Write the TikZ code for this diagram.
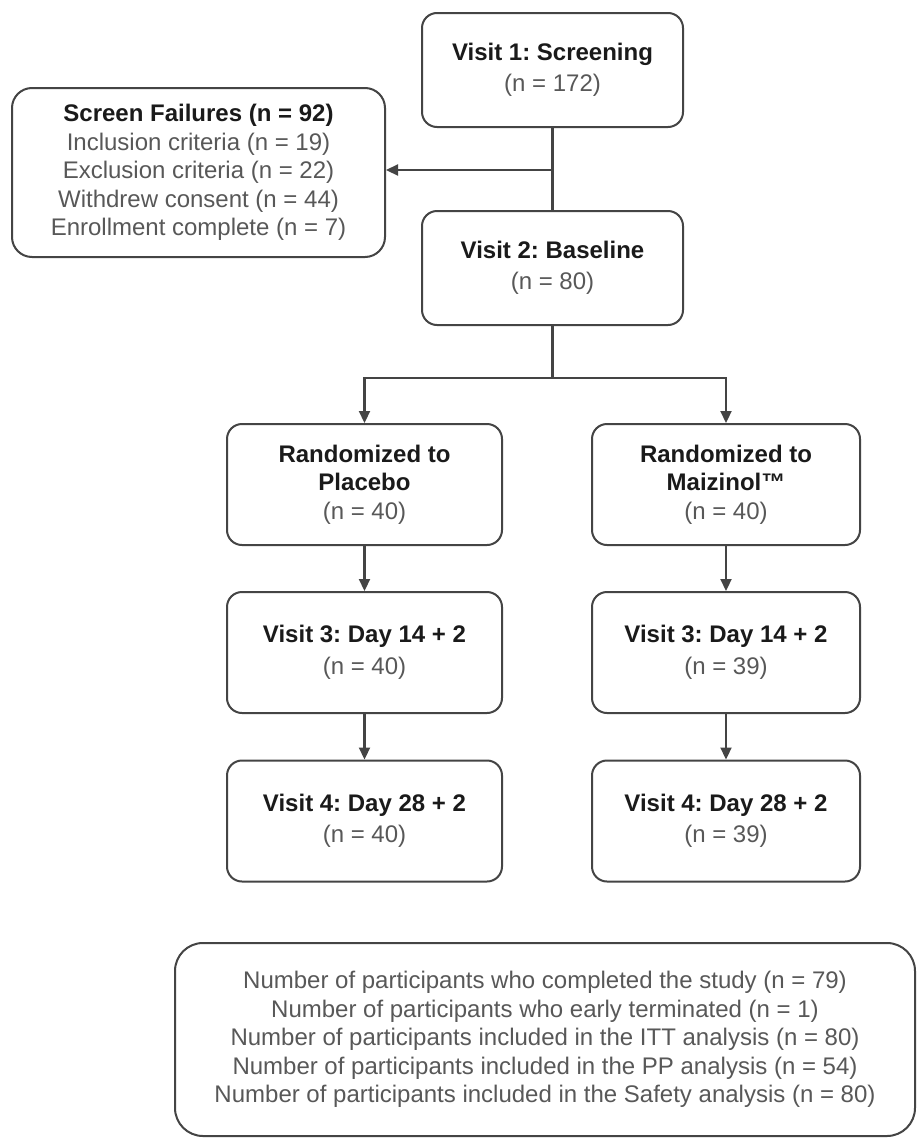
\documentclass[tikz,border=0pt]{standalone}
\usepackage{fontspec}
\setmainfont{Liberation Sans}
\usetikzlibrary{arrows.meta}
\definecolor{boxc}{HTML}{444444}
\definecolor{txtb}{HTML}{1A1A1A}
\definecolor{txtg}{HTML}{585858}
\newcommand{\ttl}[1]{\textcolor{txtb}{\bfseries #1}}
\frenchspacing
\begin{document}
\begin{tikzpicture}[x=1pt,y=-1pt,
  box/.style={draw=boxc, line width=2pt, rounded corners=15pt, align=center,
    inner sep=0pt, font=\fontsize{24}{28.5}\selectfont, text=txtg},
  conn/.style={draw=boxc, line width=2.2pt},
  arr/.style={conn, -{Triangle[length=12pt,width=11pt]}}]
\fill[white] (0,0) rectangle (917,1138);
\useasboundingbox (0,0) rectangle (917,1138);

\node[box, minimum width=261pt, minimum height=114pt] (v1) at (552.5,70)
  {\ttl{Visit 1: Screening}\\[2.5pt](n = 172)};
\node[box, rounded corners=20pt, minimum width=373pt, minimum height=169pt] (sf) at (198.5,172.5)
  {\ttl{Screen Failures (n = 92)}\\Inclusion criteria (n = 19)\\Exclusion criteria (n = 22)\\Withdrew consent (n = 44)\\Enrollment complete (n = 7)};
\node[box, minimum width=261pt, minimum height=114pt] (v2) at (552.5,268)
  {\ttl{Visit 2: Baseline}\\[2.5pt](n = 80)};

\node[box, minimum width=275pt, minimum height=121pt] (pl) at (364.5,484.5)
  {\ttl{Randomized to}\\\ttl{Placebo}\\(n = 40)};
\node[box, minimum width=268pt, minimum height=121pt] (mz) at (726,484.5)
  {\ttl{Randomized to}\\\ttl{Maizinol™}\\(n = 40)};
\node[box, minimum width=275pt, minimum height=121pt] (v3l) at (364.5,652.5)
  {\ttl{Visit 3: Day 14 + 2}\\[3pt](n = 40)};
\node[box, minimum width=268pt, minimum height=121pt] (v3r) at (726,652.5)
  {\ttl{Visit 3: Day 14 + 2}\\[3pt](n = 39)};
\node[box, minimum width=275pt, minimum height=121pt] (v4l) at (364.5,821)
  {\ttl{Visit 4: Day 28 + 2}\\[3pt](n = 40)};
\node[box, minimum width=268pt, minimum height=121pt] (v4r) at (726,821)
  {\ttl{Visit 4: Day 28 + 2}\\[3pt](n = 39)};

\node[box, rounded corners=28pt, minimum width=740pt, minimum height=193pt] (sum) at (545,1039.5)
  {Number of participants who completed the study (n = 79)\\
   Number of participants who early terminated (n = 1)\\
   Number of participants included in the ITT analysis (n = 80)\\
   Number of participants included in the PP analysis (n = 54)\\
   Number of participants included in the Safety analysis (n = 80)};

\coordinate (j1) at (552.5,170);
\coordinate (j2) at (552.5,378);
\draw[conn] (v1.south) -- (v2.north);
\draw[arr] (j1) -- (j1 -| sf.east);
\draw[conn] (v2.south) -- (j2);
\draw[arr] (j2) -| (pl.north);
\draw[arr] (j2) -| (mz.north);
\draw[arr] (pl.south) -- (v3l.north);
\draw[arr] (v3l.south) -- (v4l.north);
\draw[arr] (mz.south) -- (v3r.north);
\draw[arr] (v3r.south) -- (v4r.north);
\end{tikzpicture}
\end{document}
